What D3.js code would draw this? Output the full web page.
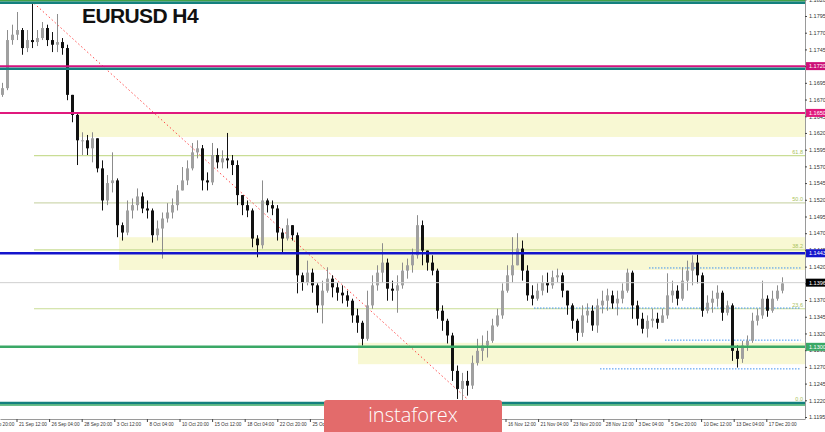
<!DOCTYPE html>
<html><head><meta charset="utf-8">
<script src="https://cdn.jsdelivr.net/npm/d3@7"></script>
<style>body{margin:0;background:#fff;}svg{display:block;}</style>
</head><body>
<svg id="chart" width="825" height="432"></svg>
<script>
// ---- data (EURUSD H4, each drawn candle ~2.5 H4 bars) ----
const firstOpen = 1.1677;
const closes = [
1.1687,1.1759,1.1767,1.1774,1.1747,1.1759,1.1756,1.1762,1.1777,1.1759,
1.1752,1.1756,1.1747,1.1677,1.1647,1.1609,1.1609,1.1597,1.1612,1.1567,
1.1519,1.1545,1.1549,1.1482,1.1471,1.1504,1.1512,1.1525,1.1507,1.1504,
1.1467,1.1477,1.1492,1.1501,1.1512,1.1534,1.1549,1.1567,1.1591,1.1597,
1.1549,1.1546,1.1587,1.1576,1.1582,1.1579,1.1572,1.1527,1.1512,1.1504,
1.1462,1.1452,1.1519,1.1512,1.1507,1.1471,1.1462,1.1482,1.1467,1.1407,
1.1396,1.1411,1.1392,1.1362,1.1384,1.1402,1.1389,1.1381,1.1377,1.1369,
1.1347,1.1336,1.1312,1.1362,1.1392,1.1411,1.1426,1.1387,1.1384,1.1392,
1.1414,1.1422,1.1437,1.1482,1.1444,1.1426,1.1414,1.1354,1.1339,1.1317,
1.1264,1.1237,1.1249,1.1242,1.1276,1.1294,1.1302,1.1309,1.1332,1.1347,
1.1384,1.1407,1.1422,1.1447,1.1414,1.1377,1.1372,1.1384,1.1396,1.1392,
1.1404,1.1407,1.1384,1.1362,1.1339,1.1321,1.1347,1.1354,1.1332,1.1362,
1.1369,1.1377,1.1365,1.1372,1.1384,1.1411,1.1362,1.1342,1.1327,1.1339,
1.1342,1.1336,1.1347,1.1377,1.1384,1.1372,1.1399,1.1414,1.1426,1.1407,
1.1354,1.1366,1.1372,1.1381,1.1351,1.1362,1.1294,1.1282,1.1302,1.1309,
1.1339,1.1347,1.1372,1.1354,1.1372,1.1384,1.1395];
const highs = [
1.1695,1.1774,1.1782,1.1801,1.1777,1.1774,1.1815,1.1774,1.1786,1.1782,
1.1771,1.1798,1.1762,1.1752,1.1677,1.1651,1.1621,1.1617,1.1621,1.1612,
1.1579,1.1557,1.1591,1.1552,1.1486,1.1519,1.1522,1.1537,1.1531,1.1519,
1.1507,1.1489,1.1501,1.1515,1.1522,1.1542,1.1569,1.1579,1.1605,1.1609,
1.1602,1.1561,1.1605,1.1597,1.1594,1.1620,1.1587,1.1579,1.1527,1.1519,
1.1507,1.1467,1.1549,1.1522,1.1519,1.1512,1.1477,1.1492,1.1482,1.1471,
1.1411,1.1429,1.1417,1.1395,1.1399,1.1419,1.1407,1.1396,1.1392,1.1384,
1.1372,1.1357,1.1339,1.1384,1.1407,1.1422,1.1455,1.1432,1.1399,1.1407,
1.1426,1.1432,1.1447,1.1497,1.1489,1.1444,1.1437,1.1417,1.1362,1.1342,
1.1321,1.1272,1.1261,1.1264,1.1287,1.1312,1.1317,1.1324,1.1342,1.1357,
1.1395,1.1422,1.1464,1.1470,1.1459,1.1422,1.1392,1.1395,1.1407,1.1411,
1.1414,1.1417,1.1411,1.1384,1.1365,1.1342,1.1362,1.1365,1.1362,1.1372,
1.1384,1.1387,1.1384,1.1384,1.1395,1.1417,1.1414,1.1369,1.1351,1.1347,
1.1357,1.1351,1.1357,1.1410,1.1399,1.1392,1.1419,1.1429,1.1437,1.1438,
1.1411,1.1377,1.1384,1.1392,1.1384,1.1369,1.1365,1.1302,1.1309,1.1317,
1.1351,1.1357,1.1399,1.1377,1.1384,1.1392,1.1404];
const lows = [
1.1674,1.1684,1.1752,1.1759,1.1737,1.1741,1.1747,1.1750,1.1759,1.1750,
1.1741,1.1741,1.1737,1.1669,1.1636,1.1572,1.1587,1.1587,1.1576,1.1561,
1.1504,1.1512,1.1531,1.1464,1.1459,1.1467,1.1492,1.1504,1.1500,1.1492,
1.1456,1.1459,1.1432,1.1486,1.1492,1.1504,1.1534,1.1542,1.1564,1.1582,
1.1534,1.1534,1.1542,1.1567,1.1567,1.1567,1.1557,1.1512,1.1497,1.1494,
1.1449,1.1434,1.1447,1.1501,1.1497,1.1459,1.1440,1.1459,1.1459,1.1380,
1.1384,1.1392,1.1381,1.1351,1.1335,1.1381,1.1374,1.1369,1.1365,1.1360,
1.1336,1.1321,1.1302,1.1309,1.1357,1.1384,1.1396,1.1369,1.1369,1.1351,
1.1387,1.1402,1.1411,1.1432,1.1422,1.1414,1.1407,1.1342,1.1324,1.1305,
1.1249,1.1222,1.1216,1.1227,1.1237,1.1272,1.1279,1.1284,1.1306,1.1330,
1.1342,1.1381,1.1396,1.1426,1.1399,1.1369,1.1362,1.1369,1.1377,1.1381,
1.1387,1.1396,1.1374,1.1348,1.1327,1.1309,1.1315,1.1336,1.1324,1.1321,
1.1350,1.1354,1.1357,1.1347,1.1365,1.1381,1.1342,1.1332,1.1320,1.1314,
1.1329,1.1327,1.1336,1.1342,1.1366,1.1362,1.1369,1.1384,1.1392,1.1395,
1.1345,1.1350,1.1351,1.1360,1.1339,1.1347,1.1279,1.1269,1.1276,1.1294,
1.1306,1.1332,1.1342,1.1345,1.1351,1.1369,1.1380];

const timeLabels = ["19 Sep 20:00","21 Sep 12:00","26 Sep 04:00","28 Sep 20:00","3 Oct 12:00","8 Oct 04:00",
"10 Oct 20:00","15 Oct 12:00","18 Oct 04:00","22 Oct 20:00","25 Oct 12:00","30 Oct 04:00","1 Nov 20:00",
"6 Nov 12:00","9 Nov 04:00","13 Nov 20:00","16 Nov 12:00","21 Nov 04:00","23 Nov 20:00","28 Nov 12:00",
"3 Dec 04:00","5 Dec 20:00","10 Dec 12:00","13 Dec 04:00","17 Dec 20:00"];
const labelStartIdx = -3.72, candlesPerLabel = 6.52;

const priceTicks = [1.1820,1.1795,1.1770,1.1745,1.1720,1.1695,1.1670,1.1645,1.1620,1.1595,1.1570,1.1545,1.1520,
1.1495,1.1470,1.1445,1.1420,1.1395,1.1370,1.1345,1.1320,1.1295,1.1270,1.1245,1.1220,1.1195];

const zoneFrom = [1.1650, 1.1464, 1.1306];
const zoneTo   = [1.1614, 1.1415, 1.1274];
const zoneStart = [14.9, 23.3, 71.1];

const fibNames  = ["61.8","50.0","38.2","23.6","0.0"];
const fibPrices = [1.1586,1.15155,1.1445,1.1357,1.1216];
const fibStart = 6.3;

const levelPrices = [1.1818,1.1815,1.1720,1.1716,1.1650,1.1440,1.1396,1.1300,1.1216,1.1213];
const levelColors = ["#43a047","#13807e","#d4127e","#13807e","#e0197d","#1414cc","#cfcfcf","#3aa866","#13807e","#3aa866"];
const levelWidths = [1.5,2.5,2,2.5,2,2.5,1,2.5,2.5,1.5];

const dotPrices = [1.1418,1.1358,1.1310,1.1267];
const dotStart  = [129.3,106.3,132.5,119.5];

const trendIdx = [6.3, 93.1];
const trendPrice = [1.1814, 1.1221];

const boxPrices = [1.1720,1.1650,1.1440,1.1396,1.1300];
const boxLabels = ["1.1720","1.1650","1.1443","1.1396","1.1300"];
const boxColors = ["#cc1177","#e0197d","#1414cc","#000000","#3aa866"];

// ---- drawing ----
const plotR = 805, plotB = 419;
const logoX0 = 324, logoX1 = 502;
const svg = d3.select("#chart");
const x = d3.scaleLinear().domain([-0.5,160.5]).range([0,plotR]);
const y = d3.scaleLinear().domain([1.1795,1.1195]).range([16,417]);

svg.append("defs").append("clipPath").attr("id","clip")
  .append("rect").attr("x",0).attr("y",0).attr("width",plotR).attr("height",plotB);
const plot = svg.append("g").attr("clip-path","url(#clip)");

// zones
plot.selectAll(".zone").data(zoneFrom).join("rect")
  .attr("x",(d,i)=>x(zoneStart[i])).attr("width",(d,i)=>plotR-x(zoneStart[i]))
  .attr("y",d=>y(d)).attr("height",(d,i)=>y(zoneTo[i])-y(d))
  .attr("fill","#f8f8d3");

// fib lines
plot.selectAll(".fib").data(fibPrices).join("line")
  .attr("x1",x(fibStart)).attr("x2",plotR).attr("y1",d=>y(d)).attr("y2",d=>y(d))
  .attr("stroke",(d,i)=>i===1?"#cfd8b0":"#c9dd95").attr("stroke-width",1.2);

// blue dotted
plot.selectAll(".dot").data(dotPrices).join("line")
  .attr("x1",(d,i)=>x(dotStart[i])).attr("x2",x(159.6)).attr("y1",d=>y(d)).attr("y2",d=>y(d))
  .attr("stroke","#3f93ee").attr("stroke-width",1).attr("stroke-dasharray","1.5,1.5");

// trend line
plot.append("line")
  .attr("x1",x(trendIdx[0])).attr("y1",y(trendPrice[0]))
  .attr("x2",x(trendIdx[1])).attr("y2",y(trendPrice[1]))
  .attr("stroke","#ff4a4a").attr("stroke-width",1).attr("stroke-dasharray","1.5,2.5");

// candles
const candles = closes.map((c,i)=>{
  const o = i ? closes[i-1] : firstOpen;
  return {i,o,c,h:Math.max(highs[i],o,c),l:Math.min(lows[i],o,c)};
});
const cg = plot.selectAll(".c").data(candles).join("g");
cg.append("line")
  .attr("x1",d=>x(d.i)).attr("x2",d=>x(d.i)).attr("y1",d=>y(d.h)).attr("y2",d=>y(d.l))
  .attr("stroke",d=>d.c>=d.o?"#8c8c8c":"#111").attr("stroke-width",1);
cg.append("rect")
  .attr("x",d=>x(d.i)-1.5).attr("width",3)
  .attr("y",d=>y(Math.max(d.o,d.c))).attr("height",d=>Math.max(1,Math.abs(y(d.o)-y(d.c))))
  .attr("fill",d=>d.c>=d.o?"#a0a0a0":"#111");

// horizontal levels (over candles)
plot.selectAll(".lvl").data(levelPrices).join("line")
  .attr("x1",0).attr("x2",plotR).attr("y1",d=>y(d)).attr("y2",d=>y(d))
  .attr("stroke",(d,i)=>levelColors[i]).attr("stroke-width",(d,i)=>levelWidths[i]);

// fib labels
svg.selectAll(".fibt").data(fibPrices).join("text")
  .attr("x",803).attr("y",d=>y(d)-1.5).attr("text-anchor","end")
  .attr("font-family","Liberation Sans, Arial, sans-serif").attr("font-size",5.5)
  .attr("fill","#a9c25a").text((d,i)=>fibNames[i]);

// right axis
const ya = svg.append("g").attr("transform",`translate(${plotR},0)`)
  .call(d3.axisRight(y).tickValues(priceTicks).tickFormat(d3.format(".4f")).tickSize(2).tickPadding(2));
ya.select(".domain").attr("stroke","#9a9a9a").attr("d",`M0.5,0V${plotB}`);
ya.selectAll(".tick line").attr("stroke","#444");
ya.selectAll("text").attr("font-family","Liberation Sans, Arial, sans-serif").attr("font-size",5.5).attr("fill","#333");

// bottom axis (labels fully under the logo are not visible in the reference)
const tickIdx = timeLabels.map((t,k)=>labelStartIdx + k*candlesPerLabel);
const visIdx = tickIdx.filter(v=>{const px=x(v); return px<logoX0-6 || px>logoX1-4;});
const xa = svg.append("g").attr("transform",`translate(0,${plotB})`)
  .call(d3.axisBottom(x).tickValues(visIdx)
    .tickFormat(d=>timeLabels[tickIdx.indexOf(d)]).tickSize(3).tickSizeOuter(0));
xa.select(".domain").attr("stroke","#9a9a9a");
xa.selectAll(".tick line").attr("stroke","#444");
xa.selectAll("text").attr("text-anchor","start").attr("x",2).attr("y",4)
  .attr("font-family","Liberation Sans, Arial, sans-serif").attr("font-size",4.7).attr("fill","#333");

// right price boxes
const bx = svg.selectAll(".box").data(boxPrices).join("g");
bx.append("rect").attr("x",plotR+1).attr("y",d=>y(d)-4).attr("width",20).attr("height",8)
  .attr("fill",(d,i)=>boxColors[i]);
bx.append("text").attr("x",plotR+4).attr("y",d=>y(d)+2)
  .attr("font-family","Liberation Sans, Arial, sans-serif").attr("font-size",5.5).attr("fill","#fff")
  .text((d,i)=>boxLabels[i]);

// title
svg.append("text").attr("x",82).attr("y",23)
  .attr("font-family","Liberation Sans, Arial, sans-serif").attr("font-weight","bold")
  .attr("font-size",21).attr("letter-spacing",-0.6).attr("fill","#111").text("EURUSD H4");

// logo
svg.append("rect").attr("x",logoX0).attr("y",400).attr("width",logoX1-logoX0).attr("height",36).attr("rx",3)
  .attr("fill","#e36b6b");
svg.append("text").attr("x",413).attr("y",422).attr("text-anchor","middle")
  .attr("font-family","Open Sans, sans-serif").attr("font-weight",300).attr("font-size",20)
  .attr("fill","#fff").text("instaforex");
</script>
</body></html>
